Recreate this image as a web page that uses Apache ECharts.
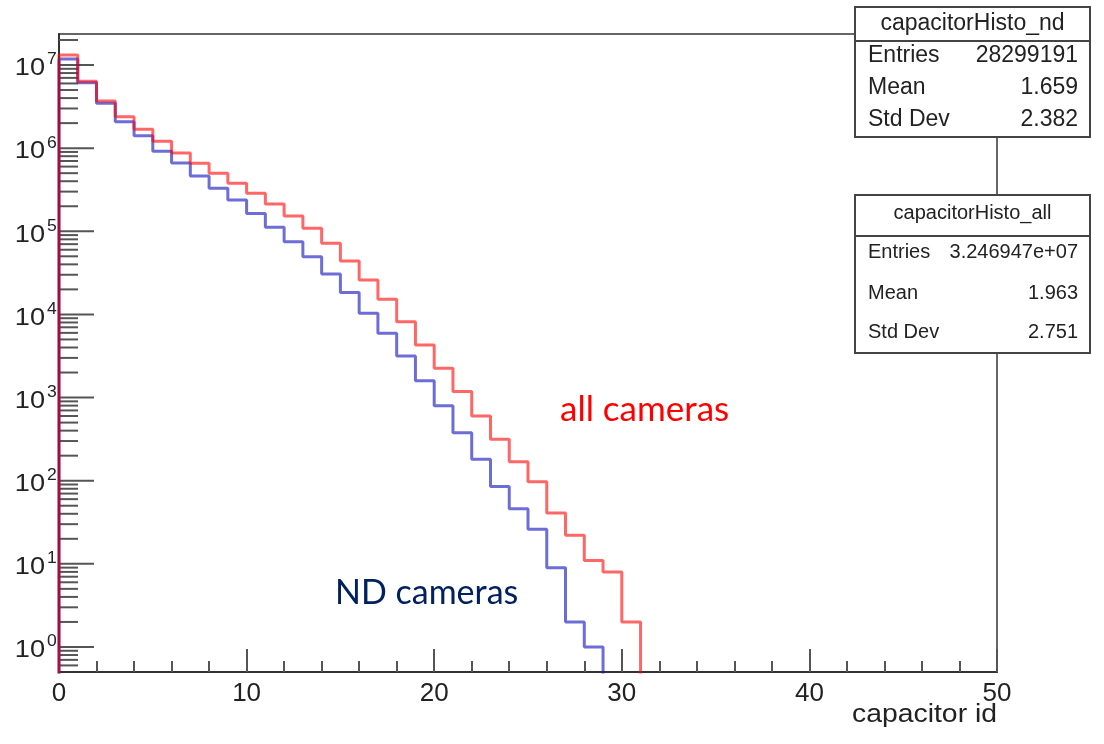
<!DOCTYPE html>
<html>
<head>
<meta charset="utf-8">
<script src="https://cdn.jsdelivr.net/npm/echarts@6/dist/echarts.min.js"></script>
<style>
  html, body { margin: 0; padding: 0; background: #ffffff; }
  #chart { width: 1104px; height: 744px; }
</style>
</head>
<body>
<div id="chart"></div>
<script>
// Counts per capacitor id (bin width 1, bins 0..49)
const countsAll = [
  1.32e7, 6.37e6, 3.69e6, 2.39e6, 1.69e6, 1.21e6, 8.75e5, 6.58e5, 4.99e5, 3.78e5,
  2.86e5, 2.13e5, 1.53e5, 1.09e5, 7.18e4, 4.39e4, 2.60e4, 1.52e4, 8180, 4290,
  2250, 1180, 600, 315, 169, 97, 41, 22, 11, 8,
  2, 0, 0, 0, 0, 0, 0, 0, 0, 0,
  0, 0, 0, 0, 0, 0, 0, 0, 0, 0
];
const countsND = [
  1.18e7, 6.13e6, 3.46e6, 2.08e6, 1.41e6, 9.17e5, 6.63e5, 4.63e5, 3.29e5, 2.38e5,
  1.64e5, 1.12e5, 7.50e4, 4.95e4, 3.06e4, 1.83e4, 1.03e4, 5930, 3160, 1590,
  798, 378, 181, 85, 46, 26, 9, 2, 1, 0,
  0, 0, 0, 0, 0, 0, 0, 0, 0, 0,
  0, 0, 0, 0, 0, 0, 0, 0, 0, 0
];

// Statistics boxes
const statTitleND = 'capacitorHisto_nd';
const statRowsND = [['Entries', '28299191'], ['Mean', '1.659'], ['Std Dev', '2.382']];
const statTitleAll = 'capacitorHisto_all';
const statRowsAll = [['Entries', '3.246947e+07'], ['Mean', '1.963'], ['Std Dev', '2.751']];

// Axis ranges and decade exponents labelled on the log axis
const xRange = [0, 50];
const yRange = [0.5, 2.36e7];
const yDecades = [0, 1, 2, 3, 4, 5, 6, 7];
const xAxisTitle = 'capacitor id';
const labelAll = 'all cameras';
const labelND = 'ND cameras';

// Empty bins sit far below the visible log range so the step drops out of the frame
const BELOW_AXIS = 1e-3;

function stepPoints(counts) {
  const pts = [[0, BELOW_AXIS]];
  counts.forEach((c, i) => pts.push([i, c > 0 ? c : BELOW_AXIS]));
  const last = counts[counts.length - 1];
  pts.push([counts.length, last > 0 ? last : BELOW_AXIS]);
  return pts;
}

// Log ticks: major at each decade, minor at 2..9 x 10^k, all inside the axis range
const majorTickValues = yDecades.map(k => [0, Math.pow(10, k), k]);
const minorTickValues = [];
for (let k = -1; k <= 7; k++) {
  for (let m = 2; m <= 9; m++) {
    const v = m * Math.pow(10, k);
    if (v > yRange[0] && v < yRange[1]) minorTickValues.push([0, v]);
  }
}

const GRID = { left: 59, top: 34, right: 107, bottom: 72 };
const FONT = 'Liberation Sans, Arial, sans-serif';
const TICK_COLOR = '#555555';

function statBox(x, y, w, h, headH, title, rows, titleSize, fontSize, titleY, rowYs) {
  const els = [
    { type: 'rect', shape: { x: x, y: y, width: w, height: h },
      style: { fill: '#ffffff', stroke: '#444444', lineWidth: 2 } },
    { type: 'line', shape: { x1: x, y1: y + headH, x2: x + w, y2: y + headH },
      style: { stroke: '#444444', lineWidth: 2 } },
    { type: 'text', x: x + w / 2, y: titleY,
      style: { text: title, font: titleSize + 'px ' + FONT, fill: '#222222',
               align: 'center', verticalAlign: 'middle' } }
  ];
  rows.forEach((r, i) => {
    els.push({ type: 'text', x: x + 13, y: rowYs[i],
      style: { text: r[0], font: fontSize + 'px ' + FONT, fill: '#222222',
               align: 'left', verticalAlign: 'middle' } });
    els.push({ type: 'text', x: x + w - 12, y: rowYs[i],
      style: { text: r[1], font: fontSize + 'px ' + FONT, fill: '#222222',
               align: 'right', verticalAlign: 'middle' } });
  });
  return { type: 'group', z: 100, children: els };
}

const chart = echarts.init(document.getElementById('chart'), null, { renderer: 'canvas' });

chart.setOption({
  animation: false,
  backgroundColor: '#ffffff',
  grid: Object.assign({ show: true, borderColor: '#666666', borderWidth: 2,
                        backgroundColor: 'transparent', containLabel: false,
                        outerBoundsMode: 'none' }, GRID),
  xAxis: {
    type: 'value',
    min: xRange[0], max: xRange[1], interval: 10,
    axisLine: { show: true, onZero: false, lineStyle: { color: '#333333', width: 2 } },
    axisTick: { show: true, inside: true, length: 23, lineStyle: { color: TICK_COLOR, width: 2 } },
    minorTick: { show: true, splitNumber: 5, length: 11, lineStyle: { color: TICK_COLOR, width: 2 } },
    axisLabel: { show: true, margin: 9, fontSize: 26, fontFamily: FONT, color: '#222222' },
    splitLine: { show: false }
  },
  yAxis: {
    type: 'log',
    logBase: 10,
    min: yRange[0], max: yRange[1],
    axisLine: { show: true, lineStyle: { color: '#333333', width: 2 } },
    axisTick: { show: false },
    minorTick: { show: false },
    splitLine: { show: false },
    axisLabel: { show: false }
  },
  series: [
    {
      // log minor ticks along the left axis
      type: 'custom',
      coordinateSystem: 'cartesian2d',
      silent: true,
      z: 3,
      data: minorTickValues,
      renderItem: function (params, api) {
        const p = api.coord([api.value(0), api.value(1)]);
        return { type: 'line', shape: { x1: p[0], y1: p[1], x2: p[0] + 19, y2: p[1] },
                 style: { stroke: TICK_COLOR, lineWidth: 2 } };
      }
    },
    {
      // decade ticks with 10^k labels
      type: 'custom',
      coordinateSystem: 'cartesian2d',
      silent: true,
      z: 3,
      clip: false,
      data: majorTickValues,
      renderItem: function (params, api) {
        const p = api.coord([api.value(0), api.value(1)]);
        const k = api.value(2);
        return {
          type: 'group',
          children: [
            { type: 'line', shape: { x1: p[0], y1: p[1], x2: p[0] + 35, y2: p[1] },
              style: { stroke: TICK_COLOR, lineWidth: 2 } },
            { type: 'text', x: p[0] - 14, y: p[1] + 4, scaleX: 1.18,
              style: { text: '10', font: '23px ' + FONT, fill: '#222222',
                       align: 'right', verticalAlign: 'middle' } },
            { type: 'text', x: p[0] - 12, y: p[1] - 5, scaleX: 1.1,
              style: { text: String(k), font: '16px ' + FONT, fill: '#222222',
                       align: 'left', verticalAlign: 'middle' } }
          ]
        };
      }
    },
    {
      name: 'capacitorHisto_nd',
      type: 'line',
      step: 'end',
      symbol: 'none',
      clip: true,
      z: 4,
      data: stepPoints(countsND),
      lineStyle: { color: 'rgba(20, 20, 190, 0.62)', width: 3 }
    },
    {
      name: 'capacitorHisto_all',
      type: 'line',
      step: 'end',
      symbol: 'none',
      clip: true,
      z: 5,
      data: stepPoints(countsAll),
      lineStyle: { color: 'rgba(255, 0, 0, 0.6)', width: 3 }
    }
  ],
  graphic: [
    statBox(855, 7, 235, 130, 34, statTitleND, statRowsND, 23, 23, 24, [56, 88, 120]),
    statBox(855, 195, 235, 158, 41, statTitleAll, statRowsAll, 20, 20, 213, [252, 293, 332]),
    { type: 'text', x: 997, y: 715, z: 100, scaleX: 1.09,
      style: { text: xAxisTitle, font: '26px ' + FONT, fill: '#222222',
               align: 'right', verticalAlign: 'middle' } },
    { type: 'text', x: 560, y: 410, z: 100,
      style: { text: labelAll, font: '35px Lato, "Open Sans", sans-serif', fill: '#ff0000',
               align: 'left', verticalAlign: 'middle' } },
    { type: 'text', x: 335, y: 593, z: 100,
      style: { text: labelND, font: '34px Lato, "Open Sans", sans-serif', fill: '#002060',
               align: 'left', verticalAlign: 'middle' } }
  ]
});
</script>
</body>
</html>
